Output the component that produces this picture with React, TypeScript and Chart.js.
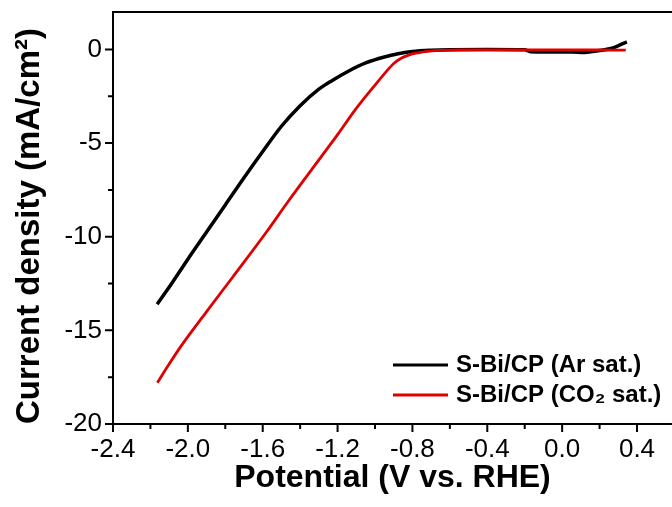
import React, { useEffect, useRef } from 'react';
import { Chart, registerables } from 'chart.js';

Chart.register(...registerables);

// ---- data ----
const arPotential = [-2.164, -2.08, -2.0, -1.9, -1.8, -1.7, -1.6, -1.5, -1.4, -1.3, -1.226, -1.15, -1.05, -0.95, -0.87, -0.8, -0.7, -0.6, -0.4, -0.2, -0.17, 0.05, 0.12, 0.2, 0.26, 0.3, 0.33, 0.346];
const arCurrent = [-13.6, -12.4, -11.2, -9.75, -8.3, -6.85, -5.45, -4.1, -3.0, -2.12, -1.64, -1.2, -0.72, -0.4, -0.22, -0.11, -0.04, -0.01, 0.0, -0.02, -0.12, -0.14, -0.16, -0.06, 0.05, 0.2, 0.34, 0.4];

const co2Potential = [-2.163, -2.1, -2.03, -1.9, -1.76, -1.58, -1.47, -1.3, -1.2, -1.107, -0.99, -0.94, -0.9, -0.86, -0.82, -0.77, -0.72, -0.65, -0.55, 0.0, 0.2, 0.34];
const co2Current = [-17.8, -16.8, -15.75, -14.0, -12.15, -9.75, -8.2, -5.9, -4.55, -3.24, -1.78, -1.18, -0.75, -0.47, -0.3, -0.18, -0.1, -0.05, -0.02, -0.02, -0.02, -0.04];

const xTickPositions = [-2.4, -2.2, -2.0, -1.8, -1.6, -1.4, -1.2, -1.0, -0.8, -0.6, -0.4, -0.2, 0.0, 0.2, 0.4];
const xMajorTicks = [-2.4, -2.0, -1.6, -1.2, -0.8, -0.4, 0.0, 0.4];
const yTickPositions = [-20, -17.5, -15, -12.5, -10, -7.5, -5, -2.5, 0];
const yMajorTicks = [-20, -15, -10, -5, 0];
const seriesLabels = ['S-Bi/CP (Ar sat.)', 'S-Bi/CP (CO\u2082 sat.)'];
const seriesColors = ['#000000', '#e00000'];
const xTitle = 'Potential (V vs. RHE)';
const yTitle = 'Current density (mA/cm\u00b2)';

// ---- layout constants ----
const W = 672;
const H = 507;
const PLOT_LEFT = 113;
const PLOT_TOP = 12;
const PLOT_BOTTOM = 424;
const FONT = '"Liberation Sans", Arial, Helvetica, sans-serif';

const isMajor = (v: number, majors: number[]) => majors.some((m) => Math.abs(m - v) < 1e-6);

const framePlugin = {
  id: 'frameTicks',
  afterDatasetsDraw(chart: any) {
    const { ctx, chartArea: a, scales } = chart;
    const x = scales.x;
    const y = scales.y;
    ctx.save();
    ctx.strokeStyle = '#000';
    ctx.lineWidth = 2;
    ctx.beginPath();
    ctx.moveTo(a.right + 4, a.top);
    ctx.lineTo(a.left, a.top);
    ctx.lineTo(a.left, a.bottom);
    ctx.lineTo(a.right + 4, a.bottom);
    ctx.stroke();
    ctx.beginPath();
    x.ticks.forEach((t: any) => {
      const px = x.getPixelForValue(t.value);
      const len = isMajor(t.value, xMajorTicks) ? 8 : 5;
      ctx.moveTo(px, a.bottom);
      ctx.lineTo(px, a.bottom + len);
    });
    y.ticks.forEach((t: any) => {
      const py = y.getPixelForValue(t.value);
      const len = isMajor(t.value, yMajorTicks) ? 8 : 5;
      ctx.moveTo(a.left, py);
      ctx.lineTo(a.left - len, py);
    });
    ctx.stroke();
    ctx.restore();
  },
};

const legendPlugin = {
  id: 'insideLegend',
  afterDraw(chart: any) {
    const { ctx } = chart;
    const rows = [365, 395];
    ctx.save();
    ctx.font = `bold 24px ${FONT}`;
    ctx.textBaseline = 'middle';
    ctx.textAlign = 'left';
    rows.forEach((ry, i) => {
      ctx.strokeStyle = seriesColors[i];
      ctx.lineWidth = 3;
      ctx.beginPath();
      ctx.moveTo(393, ry);
      ctx.lineTo(448, ry);
      ctx.stroke();
      ctx.fillStyle = '#000';
      ctx.fillText(seriesLabels[i], 456, ry);
    });
    ctx.restore();
  },
};

export default function App() {
  const canvasRef = useRef<HTMLCanvasElement | null>(null);

  useEffect(() => {
    const canvas = canvasRef.current;
    if (!canvas) return;
    const toPoints = (xs: number[], ys: number[]) => xs.map((v, i) => ({ x: v, y: ys[i] }));
    const chart = new Chart(canvas, {
      type: 'line',
      data: {
        datasets: [
          {
            label: seriesLabels[0],
            data: toPoints(arPotential, arCurrent),
            borderColor: seriesColors[0],
            borderWidth: 3.5,
            pointRadius: 0,
            cubicInterpolationMode: 'monotone',
            fill: false,
            order: 2,
          },
          {
            label: seriesLabels[1],
            data: toPoints(co2Potential, co2Current),
            borderColor: seriesColors[1],
            borderWidth: 2.8,
            pointRadius: 0,
            cubicInterpolationMode: 'monotone',
            fill: false,
            order: 1,
          },
        ],
      },
      options: {
        responsive: false,
        animation: false,
        devicePixelRatio: 1,
        layout: { padding: { top: PLOT_TOP, right: 0, left: 0, bottom: 0 } },
        plugins: { legend: { display: false }, tooltip: { enabled: false } },
        scales: {
          x: {
            type: 'linear',
            min: -2.4,
            max: 0.587,
            border: { display: false },
            grid: { display: false, drawTicks: false },
            afterBuildTicks: (s: any) => {
              s.ticks = xTickPositions.map((v) => ({ value: v }));
            },
            ticks: {
              autoSkip: false,
              maxRotation: 0,
              padding: 10,
              color: '#000',
              font: { family: FONT, size: 26 },
              callback: (v: any) => {
                const m = xMajorTicks.find((t) => Math.abs(t - Number(v)) < 1e-6);
                return m === undefined ? '' : m.toFixed(1);
              },
            },
            title: {
              display: true,
              text: xTitle,
              color: '#000',
              font: { family: FONT, size: 32, weight: 'bold' },
              padding: { top: 0, bottom: 10 },
            },
            afterFit: (s: any) => {
              s.height = H - PLOT_BOTTOM;
              s.paddingLeft = 0;
              s.paddingRight = 0;
            },
          },
          y: {
            type: 'linear',
            min: -20,
            max: 2,
            border: { display: false },
            grid: { display: false, drawTicks: false },
            afterBuildTicks: (s: any) => {
              s.ticks = yTickPositions.map((v) => ({ value: v }));
            },
            ticks: {
              autoSkip: false,
              padding: 11,
              color: '#000',
              font: { family: FONT, size: 26 },
              callback: (v: any) => {
                const m = yMajorTicks.find((t) => Math.abs(t - Number(v)) < 1e-6);
                return m === undefined ? '' : String(m);
              },
            },
            title: {
              display: true,
              text: yTitle,
              align: 'start',
              color: '#000',
              font: { family: FONT, size: 33, weight: 'bold' },
              padding: { top: 10, bottom: 0 },
            },
            afterFit: (s: any) => {
              s.width = PLOT_LEFT;
              s.paddingTop = 0;
              s.paddingBottom = 0;
            },
          },
        },
      },
      plugins: [framePlugin, legendPlugin],
    } as any);
    return () => chart.destroy();
  }, []);

  return (
    <div style={{ position: 'fixed', left: 0, top: 0, width: W, height: H, background: '#fff' }}>
      <canvas ref={canvasRef} width={W} height={H} style={{ display: 'block', width: W, height: H }} />
    </div>
  );
}
